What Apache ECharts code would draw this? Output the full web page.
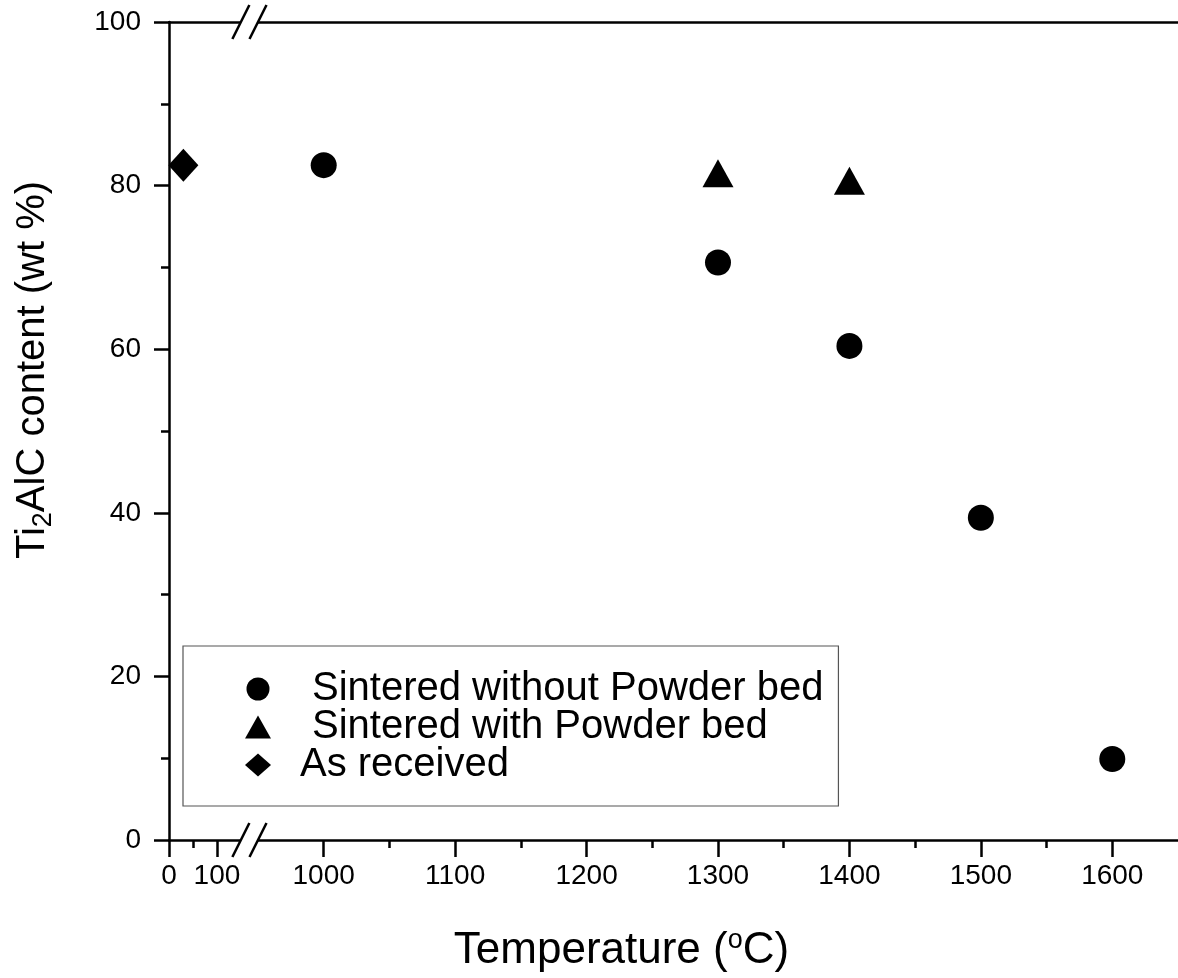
<!DOCTYPE html>
<html lang="en">
<head>
<meta charset="utf-8">
<title>Ti2AlC content vs temperature</title>
<script src="https://cdn.jsdelivr.net/npm/echarts@6/dist/echarts.min.js"></script>
<style>
  html, body { margin: 0; padding: 0; background: #fff; }
  #chart { width: 1178px; height: 978px; }
</style>
</head>
<body>
<div id="chart"></div>
<script>
// data
var tempsNoBed = [1000, 1300, 1400, 1500, 1600];
var valuesNoBed = [82.5, 70.6, 60.4, 39.4, 9.9];
var tempsBed = [1300, 1400];
var valuesBed = [81.5, 80.6];
var tempsReceived = [30];
var valuesReceived = [82.5];

var seriesNames = ['Sintered without Powder bed', 'Sintered with Powder bed', 'As received'];
var majorTicks = [0, 100, 1000, 1100, 1200, 1300, 1400, 1500, 1600];
var minorTicks = [50, 1050, 1150, 1250, 1350, 1450, 1550];

// broken x axis: 0-150 is squeezed on the left, 950-1650 keeps full scale
var LOW_END = 150, HIGH_START = 950;
var X_ORIGIN = 882.3;
var LEFT_SCALE = 0.3646;
function toAxis(t) {
    return t <= LOW_END ? X_ORIGIN + t * LEFT_SCALE : t;
}
function pairs(xs, ys) {
    return xs.map(function (x, i) { return [toAxis(x), ys[i]]; });
}
function tickLabel(v) {
    for (var i = 0; i < majorTicks.length; i++) {
        if (Math.abs(toAxis(majorTicks[i]) - v) < 1e-6) return String(majorTicks[i]);
    }
    return '';
}

var FONT = 'Liberation Sans, Arial, sans-serif';
var BLACK = '#000';
var LINE_W = 2.5;

var myChart = echarts.init(document.getElementById('chart'));
var option = {
    animation: false,
    backgroundColor: '#fff',
    grid: { left: 169, right: -2, top: 22, bottom: 138 },
    legend: {
        orient: 'vertical',
        left: 183,
        top: 646,
        padding: [23, 15, 21, 62],
        itemWidth: 26,
        itemHeight: 23,
        itemGap: -2,
        backgroundColor: '#fff',
        borderColor: '#555',
        borderWidth: 1.2,
        borderRadius: 0,
        itemStyle: { opacity: 1 },
        textStyle: { fontFamily: FONT, fontSize: 40, color: BLACK },
        data: [
            { name: seriesNames[0], icon: 'circle', textStyle: { padding: [0, 0, 0, 36] } },
            { name: seriesNames[1], icon: 'triangle', textStyle: { padding: [0, 0, 0, 36] } },
            { name: seriesNames[2], icon: 'diamond', textStyle: { padding: [0, 0, 0, 24] } }
        ]
    },
    xAxis: [{
        type: 'value',
        position: 'bottom',
        min: toAxis(0),
        max: 1650,
        splitLine: { show: false },
        axisLine: { show: true, lineStyle: { color: BLACK, width: LINE_W } },
        axisTick: {
            show: true, inside: false, length: 17,
            customValues: majorTicks.map(toAxis),
            lineStyle: { color: BLACK, width: LINE_W }
        },
        axisLabel: {
            show: true, margin: 22,
            customValues: majorTicks.map(toAxis),
            formatter: tickLabel,
            fontFamily: FONT, fontSize: 28, color: BLACK
        },
        name: '{a|Temperature (}{sup|o}{a|C)}',
        nameLocation: 'middle',
        nameGap: 87,
        nameTextStyle: {
            padding: [0, 104, 0, 0],
            rich: {
                a: { fontFamily: FONT, fontSize: 44, color: BLACK, lineHeight: 48 },
                sup: { fontFamily: FONT, fontSize: 27, color: BLACK, lineHeight: 20, verticalAlign: 'top' }
            }
        }
    }, {
        // minor ticks only
        type: 'value',
        position: 'bottom',
        min: toAxis(0),
        max: 1650,
        splitLine: { show: false },
        axisLine: { show: false },
        axisTick: {
            show: true, inside: false, length: 8,
            customValues: minorTicks.map(toAxis),
            lineStyle: { color: BLACK, width: LINE_W }
        },
        axisLabel: { show: false }
    }, {
        // top frame line
        type: 'value',
        position: 'top',
        min: toAxis(0),
        max: 1650,
        splitLine: { show: false },
        axisLine: { show: true, lineStyle: { color: BLACK, width: LINE_W } },
        axisTick: { show: false },
        axisLabel: { show: false }
    }],
    yAxis: {
        type: 'value',
        min: 0,
        max: 100,
        interval: 20,
        splitLine: { show: false },
        axisLine: { show: true, lineStyle: { color: BLACK, width: LINE_W } },
        axisTick: { show: true, inside: false, length: 15, lineStyle: { color: BLACK, width: LINE_W } },
        minorTick: { show: true, splitNumber: 2, length: 8, lineStyle: { color: BLACK, width: LINE_W } },
        axisLabel: { margin: 28, fontFamily: FONT, fontSize: 28, color: BLACK },
        name: '{a|Ti}{sub|2}{a|AlC content (wt %)}',
        nameLocation: 'middle',
        nameGap: 112,
        nameTextStyle: {
            padding: [0, 0, 0, 122],
            rich: {
                a: { fontFamily: FONT, fontSize: 40, color: BLACK, lineHeight: 48 },
                sub: { fontFamily: FONT, fontSize: 27, color: BLACK, lineHeight: 20, verticalAlign: 'bottom' }
            }
        }
    },
    series: [{
        name: seriesNames[0],
        type: 'scatter',
        symbol: 'circle',
        symbolSize: 26,
        itemStyle: { color: BLACK, opacity: 1 },
        data: pairs(tempsNoBed, valuesNoBed)
    }, {
        name: seriesNames[1],
        type: 'scatter',
        symbol: 'triangle',
        symbolSize: [31, 28],
        itemStyle: { color: BLACK, opacity: 1 },
        data: pairs(tempsBed, valuesBed)
    }, {
        name: seriesNames[2],
        type: 'scatter',
        symbol: 'diamond',
        symbolSize: [30, 33],
        itemStyle: { color: BLACK, opacity: 1 },
        data: pairs(tempsReceived, valuesReceived)
    }]
};
myChart.setOption(option);

// "//" break marks on the bottom and top frame lines
var pa = myChart.convertToPixel({ gridIndex: 0 }, [toAxis(LOW_END), 0]);
var pb = myChart.convertToPixel({ gridIndex: 0 }, [HIGH_START, 100]);
var marks = [];
[pa[1], pb[1]].forEach(function (y) {
    marks.push({
        type: 'rect', z: 100,
        shape: { x: pa[0], y: y - 3, width: pb[0] - pa[0], height: 6 },
        style: { fill: '#fff' }
    });
    [pa[0], pb[0]].forEach(function (x) {
        marks.push({
            type: 'line', z: 101,
            shape: { x1: x - 8.5, y1: y + 17, x2: x + 8.5, y2: y - 17 },
            style: { stroke: BLACK, lineWidth: LINE_W }
        });
    });
});
myChart.setOption({ graphic: marks });
</script>
</body>
</html>
